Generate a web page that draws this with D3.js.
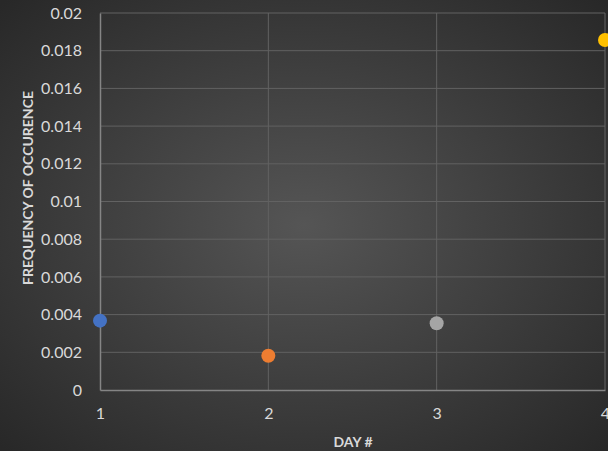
<!DOCTYPE html>
<html>
<head>
<meta charset="utf-8">
<script src="https://cdn.jsdelivr.net/npm/d3@7"></script>
<style>
  html, body { margin: 0; padding: 0; background: #333; }
  svg { display: block; }
  text { font-family: Lato, "Open Sans", sans-serif; }
</style>
</head>
<body>
<div id="chart"></div>
<script>
// data
var days = [1, 2, 3, 4];
var freq = [0.00368, 0.00182, 0.00354, 0.01857];
var dotColors = ["#4472C4", "#ED7D31", "#A5A5A5", "#FFC000"];
var yTicks = [0, 0.002, 0.004, 0.006, 0.008, 0.01, 0.012, 0.014, 0.016, 0.018, 0.02];
var xTicks = [1, 2, 3, 4];

var width = 608, height = 451;
var padding = {top: 13, right: 3, bottom: 61, left: 100};

var svg = d3.select("#chart").append("svg")
  .attr("width", width)
  .attr("height", height);

// background gradient, lighter in the middle
var defs = svg.append("defs");
var grad = defs.append("radialGradient")
  .attr("id", "bg")
  .attr("cx", "50%").attr("cy", "50%").attr("r", "70%");
grad.append("stop").attr("offset", "0%").attr("stop-color", "#555555");
grad.append("stop").attr("offset", "100%").attr("stop-color", "#282828");

svg.append("rect")
  .attr("width", width).attr("height", height)
  .attr("fill", "url(#bg)");

var xScale = d3.scaleLinear()
  .domain([1, 4])
  .range([padding.left, width - padding.right]);

var yScale = d3.scaleLinear()
  .domain([0, 0.02])
  .range([height - padding.bottom, padding.top]);

// horizontal grid
svg.append("g").selectAll("line")
  .data(yTicks.slice(1))
  .enter().append("line")
  .attr("x1", xScale(1)).attr("x2", xScale(4))
  .attr("y1", function(d) { return yScale(d); })
  .attr("y2", function(d) { return yScale(d); })
  .attr("stroke", "#626262").attr("stroke-width", 1);

// vertical grid
svg.append("g").selectAll("line")
  .data(xTicks.slice(1))
  .enter().append("line")
  .attr("x1", function(d) { return xScale(d); })
  .attr("x2", function(d) { return xScale(d); })
  .attr("y1", yScale(0)).attr("y2", yScale(0.02))
  .attr("stroke", "#626262").attr("stroke-width", 1);

// axes
var yAxis = svg.append("g")
  .attr("transform", "translate(" + xScale(1) + ",0)")
  .call(d3.axisLeft(yScale).tickValues(yTicks).tickSize(0).tickPadding(18)
    .tickFormat(function(d) { return d3.format("")(+d.toFixed(3)); }));
yAxis.select(".domain").attr("stroke", "#858585").attr("stroke-width", 1.5);
yAxis.selectAll("text").attr("fill", "#d9d9d9").style("font-size", "16px");

var xAxis = svg.append("g")
  .attr("transform", "translate(0," + yScale(0) + ")")
  .call(d3.axisBottom(xScale).tickValues(xTicks).tickSize(0).tickPadding(18)
    .tickFormat(d3.format("d")));
xAxis.select(".domain").attr("stroke", "#858585").attr("stroke-width", 1.5);
xAxis.selectAll("text").attr("fill", "#d9d9d9").style("font-size", "16px");

// axis titles
svg.append("text")
  .attr("transform", "translate(" + 33 + "," + 188 + ") rotate(-90)")
  .style("text-anchor", "middle")
  .style("font-weight", "bold")
  .style("font-size", "14px")
  .attr("fill", "#d9d9d9")
  .text("FREQUENCY OF OCCURENCE");

svg.append("text")
  .attr("x", 353).attr("y", 447)
  .style("text-anchor", "middle")
  .style("font-weight", "bold")
  .style("font-size", "14px")
  .attr("fill", "#d9d9d9")
  .text("DAY #");

// the dots
svg.append("g").selectAll("circle")
  .data(freq)
  .enter().append("circle")
  .attr("cx", function(d, i) { return xScale(days[i]); })
  .attr("cy", function(d) { return yScale(d); })
  .attr("r", 7)
  .attr("fill", function(d, i) { return dotColors[i]; });
</script>
</body>
</html>
